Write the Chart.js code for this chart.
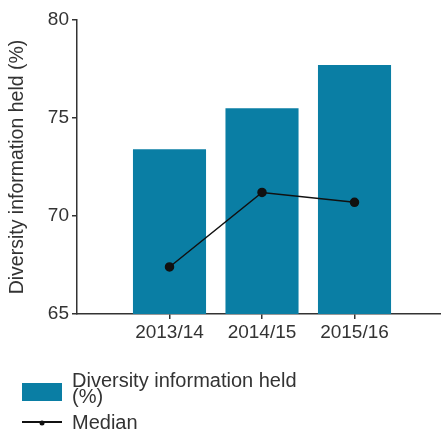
<!DOCTYPE html>
<html>
<head>
<meta charset="utf-8">
<script src="https://cdn.jsdelivr.net/npm/chart.js@4/dist/chart.umd.min.js"></script>
<style>
  html, body { margin: 0; padding: 0; background: #fff; overflow: hidden; }
  #wrap { width: 441px; height: 437px; position: relative; }
  #c { display: block; }
</style>
</head>
<body>
<div id="wrap"><canvas id="c"></canvas></div>
<script>
// Financial years shown on the x axis
const years = ['2013/14', '2014/15', '2015/16'];
// Share of staff with diversity information held (%)
const diversityHeld = [73.4, 75.5, 77.7];
// Median across organisations (%)
const median = [67.4, 71.2, 70.7];
// Y axis ticks
const yTicks = [65, 70, 75, 80];

const barLabel = 'Diversity information held (%)';
const lineLabel = 'Median';
const yTitle = 'Diversity information held (%)';

const BAR_COLOR = '#0a7ea4';
const INK = '#333333';
const FONT = '"Liberation Sans", Arial, sans-serif';

// Each year sits at position 1, 2, 3 on a numeric x axis
const barPoints = years.map((y, i) => ({ x: i + 1, y: diversityHeld[i] }));
const linePoints = years.map((y, i) => ({ x: i + 1, y: median[i] }));

// Legend below the plot: a box for the bars, a line with a dot for the median
const bottomLegend = {
  id: 'bottomLegend',
  afterDraw(chart) {
    const ctx = chart.ctx;
    const bars = chart.data.datasets.find(d => d.type === 'bar');
    const line = chart.data.datasets.find(d => d.type === 'line');
    ctx.save();
    ctx.font = '20px ' + FONT;
    ctx.textBaseline = 'middle';
    ctx.textAlign = 'left';

    // bar entry
    ctx.fillStyle = bars.backgroundColor;
    ctx.fillRect(22, 383, 40, 18);
    const words = bars.label.split(' ');
    const lines = [];
    let cur = '';
    for (const w of words) {
      const t = cur ? cur + ' ' + w : w;
      if (ctx.measureText(t).width > 236 && cur) { lines.push(cur); cur = w; } else { cur = t; }
    }
    lines.push(cur);
    ctx.fillStyle = INK;
    lines.forEach((l, i) => ctx.fillText(l, 72, 381 + i * 16));

    // line entry
    ctx.strokeStyle = line.borderColor;
    ctx.lineWidth = 2;
    ctx.beginPath();
    ctx.moveTo(22, 422);
    ctx.lineTo(62, 422);
    ctx.stroke();
    ctx.fillStyle = line.pointBackgroundColor;
    ctx.beginPath();
    ctx.arc(42, 423, 2.5, 0, Math.PI * 2);
    ctx.fill();
    ctx.fillStyle = INK;
    ctx.fillText(line.label, 72, 423);
    ctx.restore();
  }
};

new Chart(document.getElementById('c'), {
  data: {
    datasets: [
      {
        type: 'line',
        label: lineLabel,
        data: linePoints,
        borderColor: '#111111',
        backgroundColor: '#111111',
        pointBackgroundColor: '#111111',
        pointBorderColor: '#111111',
        borderWidth: 1.5,
        pointRadius: 4,
        order: 0
      },
      {
        type: 'bar',
        label: barLabel,
        data: barPoints,
        backgroundColor: BAR_COLOR,
        borderWidth: 0,
        categoryPercentage: 1,
        barPercentage: 0.79,
        order: 1
      }
    ]
  },
  options: {
    responsive: true,
    maintainAspectRatio: false,
    animation: false,
    layout: { autoPadding: false, padding: { top: 20, right: 0, bottom: 93, left: 0 } },
    plugins: {
      legend: { display: false },
      tooltip: { enabled: false }
    },
    scales: {
      x: {
        type: 'linear',
        min: 0,
        max: 3.935,
        offset: false,
        grid: { drawOnChartArea: false, drawTicks: true, tickLength: 5, color: INK, lineWidth: 1.5, offset: false },
        border: { color: INK, width: 1.5 },
        afterBuildTicks(scale) {
          scale.ticks = years.map((y, i) => ({ value: i + 1 }));
        },
        afterFit(scale) {
          scale.height = 30;
          scale.paddingLeft = 0;
          scale.paddingRight = 0;
        },
        ticks: {
          color: INK,
          font: { family: FONT, size: 19 },
          padding: 2,
          maxRotation: 0,
          autoSkip: false,
          callback: (v) => years[v - 1] ?? ''
        }
      },
      y: {
        min: 65,
        max: 80,
        afterBuildTicks(scale) {
          scale.ticks = yTicks.map(v => ({ value: v }));
        },
        afterFit(scale) { scale.width = 77; },
        grid: { drawOnChartArea: false, drawTicks: true, tickLength: 5, color: INK, lineWidth: 1.5 },
        border: { color: INK, width: 1.5 },
        ticks: {
          color: INK,
          font: { family: FONT, size: 19 },
          padding: 3
        },
        title: {
          display: true,
          text: yTitle,
          color: INK,
          font: { family: FONT, size: 19.5 },
          padding: { top: 6, bottom: 0 }
        }
      }
    }
  },
  plugins: [bottomLegend]
});
</script>
</body>
</html>
